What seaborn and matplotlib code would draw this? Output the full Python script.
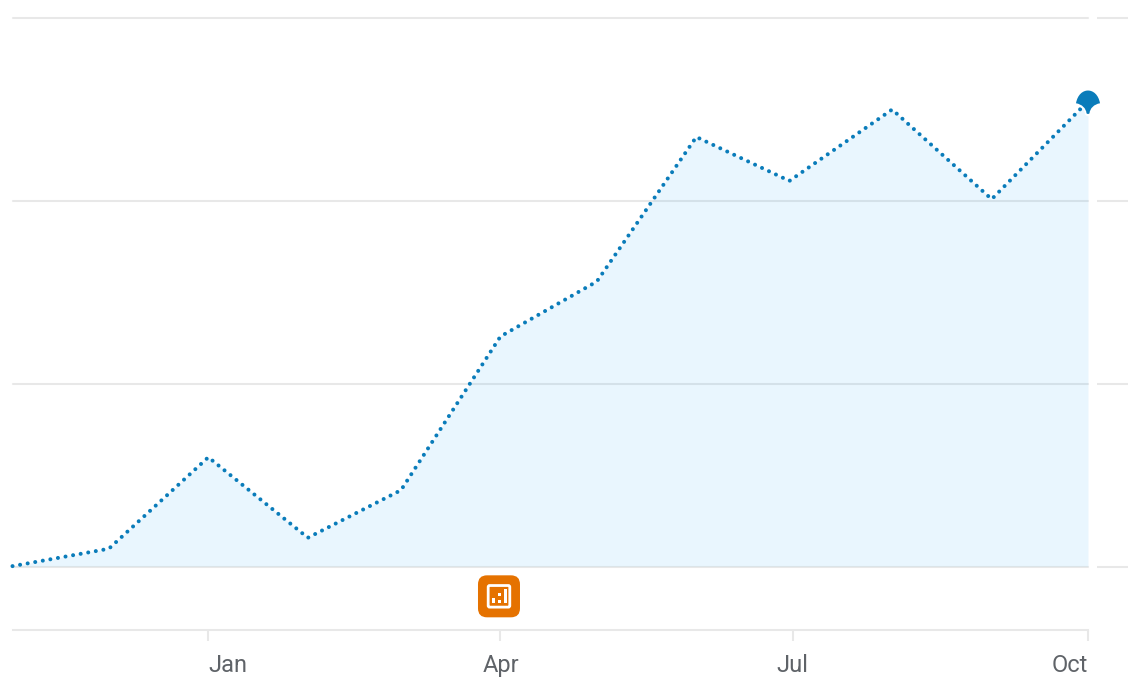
import matplotlib
matplotlib.use("Agg")
import matplotlib.pyplot as plt
import matplotlib.dates as mdates
import pandas as pd
import seaborn as sns
from matplotlib.patches import FancyBboxPatch, Rectangle
from matplotlib.path import Path
from matplotlib.transforms import IdentityTransform, blended_transform_factory

months = ["2019-11-01", "2019-12-01", "2020-01-01", "2020-02-01", "2020-03-01", "2020-04-01",
          "2020-05-01", "2020-06-01", "2020-06-30", "2020-08-01", "2020-09-01", "2020-10-01"]
values = [0.5, 10, 60, 16, 42, 126, 156, 235, 211, 250, 201, 254.5]
grid_values = [0, 100, 200, 300]
tick_months = ["2020-01-01", "2020-04-01", "2020-07-01", "2020-10-01"]
tick_labels = ["Jan", "Apr", "Jul", "Oct"]
tick_aligns = ["left", "center", "center", "right"]
icon_month = "2020-04-01"
icon_value = -16

LINE = "#0a7cba"
GRID = "#e8e8e8"
TEXT = "#5f6368"
ORANGE = "#e57200"

sns.set_style("white")
plt.rcParams["font.family"] = ["Roboto", "DejaVu Sans"]

df = pd.DataFrame({"month": pd.to_datetime(months), "value": values})

fig = plt.figure(figsize=(11.28, 7), dpi=100)
ax = fig.add_axes([12.5 / 1128, 70 / 700, 1075.5 / 1128, 612 / 700])

ax.fill_between(df["month"], df["value"], 0.5, color="#1aa5f5", alpha=0.095, linewidth=0, zorder=2)
sns.lineplot(data=df, x="month", y="value", ax=ax, color=LINE, linewidth=2.9,
             linestyle=(0, (0.01, 1.9)), dash_capstyle="round", zorder=3, clip_on=False)

# end marker, shell shape with a white halo
shell = Path(
    [(-12, -2), (-9, 15), (9, 15), (12, -2), (6, -3), (2, -7), (1.5, -12),
     (0.5, -13), (-0.5, -13), (-1.5, -12), (-2, -7), (-6, -3), (-12, -2)],
    [Path.MOVETO, Path.CURVE4, Path.CURVE4, Path.CURVE4, Path.CURVE4, Path.CURVE4, Path.CURVE4,
     Path.CURVE4, Path.CURVE4, Path.CURVE4, Path.CURVE4, Path.CURVE4, Path.CURVE4],
)
last = df.tail(1)
sns.scatterplot(data=last, x="month", y="value", ax=ax, marker=shell, s=467, color="white",
                edgecolor="white", linewidth=3, zorder=4, clip_on=False, legend=False)
sns.scatterplot(data=last, x="month", y="value", ax=ax, marker=shell, s=467, color=LINE,
                edgecolor="none", linewidth=0, zorder=5, clip_on=False, legend=False)

ax.set_xlim(df["month"].iloc[0], df["month"].iloc[-1])
ax.set_ylim(-34.4, 300)
ax.set_xlabel("")
ax.set_ylabel("")
ax.set_yticks(grid_values)
ax.set_yticklabels([])
ax.tick_params(axis="y", length=0)
ax.grid(axis="y", color=GRID, linewidth=1.5, clip_on=False)
ax.set_axisbelow(True)

# short grid stubs to the right of the plot
stub = blended_transform_factory(ax.transAxes, ax.transData)
for g in grid_values:
    ax.plot([1084.5 / 1075.5, 1115.5 / 1075.5], [g, g], transform=stub, color=GRID, linewidth=1.5,
            clip_on=False, solid_capstyle="butt")

ax.set_xticks(mdates.date2num(pd.to_datetime(tick_months)))
ax.set_xticklabels(tick_labels)
ax.tick_params(axis="x", length=8, width=1.5, color=GRID, labelcolor=TEXT, labelsize=17, pad=9.5,
               bottom=True)
for lab, ha in zip(ax.get_xticklabels(), tick_aligns):
    lab.set_ha(ha)

sns.despine(ax=ax, left=True, top=True, right=True)
ax.spines["bottom"].set_color(GRID)
ax.spines["bottom"].set_linewidth(1.5)

# annotation badge, drawn in pixels around its date
cx, cy = ax.transData.transform((mdates.date2num(pd.Timestamp(icon_month)), icon_value))
cx -= 1.5
px = IdentityTransform()
fig.add_artist(FancyBboxPatch((cx - 15.5, cy - 15.5), 31, 31, boxstyle="round,pad=5.5,rounding_size=9",
                              facecolor=ORANGE, edgecolor="none", transform=px))
fig.add_artist(FancyBboxPatch((cx - 10.5, cy - 10.5), 21, 21, boxstyle="round,pad=0.3,rounding_size=1.5",
                              facecolor="none", edgecolor="white", linewidth=2, transform=px))
for dx, h in [(-7, 5.5), (-1, 3.5), (5, 14.5)]:
    fig.add_artist(Rectangle((cx + dx, cy - 6.7), 2.8, h, facecolor="white", edgecolor="none", transform=px))
fig.add_artist(Rectangle((cx - 1, cy + 0.4), 2.8, 2.8, facecolor="white", edgecolor="none", transform=px))

fig.savefig("out.png", dpi=100)
